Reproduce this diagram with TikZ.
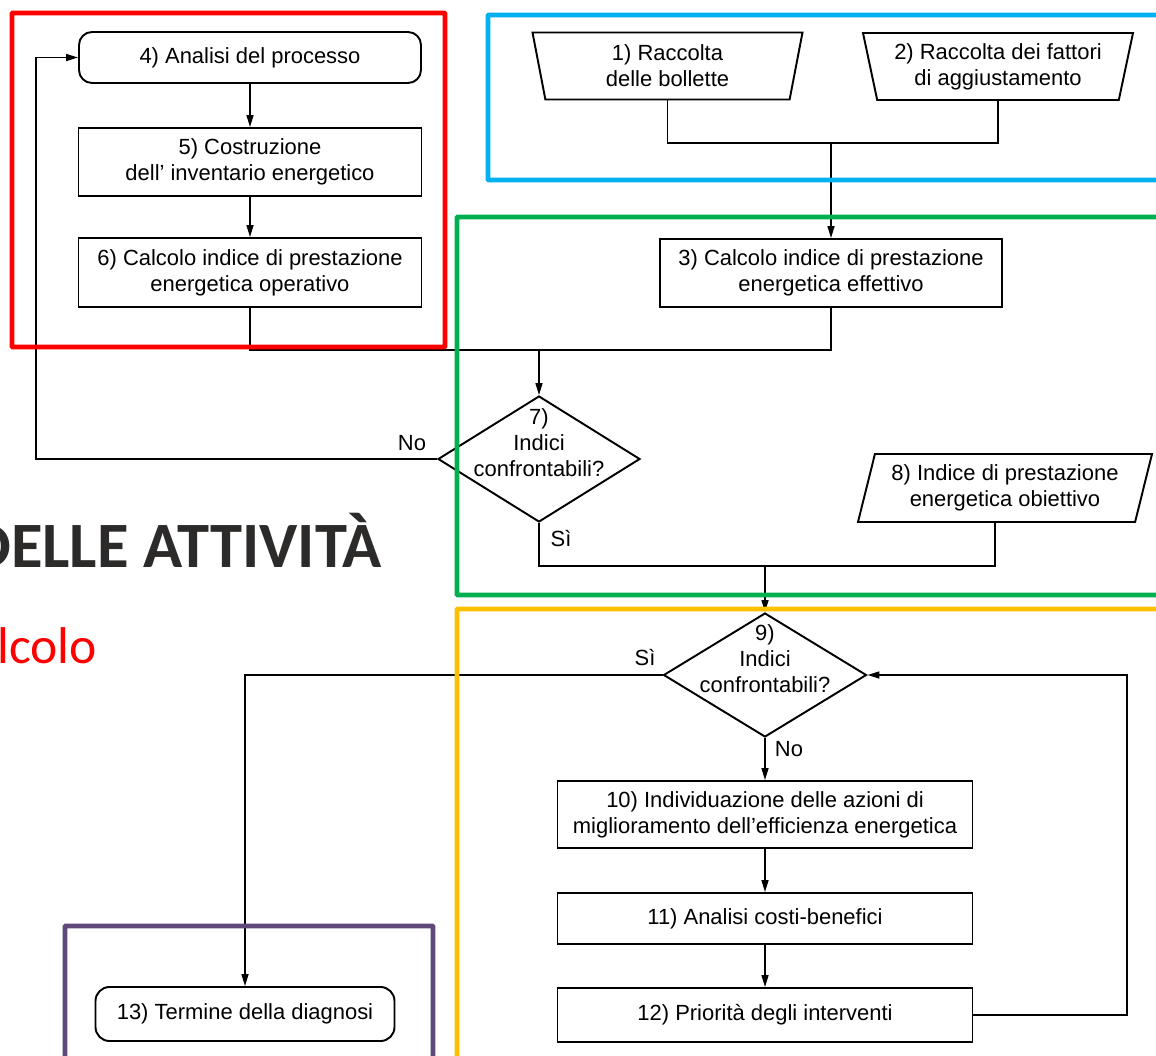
\documentclass[tikz,border=0pt]{standalone}
\usepackage{fontspec}
\setmainfont{Liberation Sans}
\newfontfamily\slidefont{Carlito}
\usetikzlibrary{shapes.geometric,arrows.meta}
\newlength\pxu
\setlength\pxu{0.02cm}
\newcommand\flowfont{\fontsize{12.5}{14.8}\selectfont}
\definecolor{fred}{RGB}{255,0,0}
\definecolor{fblue}{RGB}{0,176,240}
\definecolor{fgreen}{RGB}{0,176,80}
\definecolor{forange}{RGB}{255,192,0}
\definecolor{fpurple}{RGB}{96,73,122}
\definecolor{titlegray}{RGB}{45,42,42}
\begin{document}
\begin{tikzpicture}[x=0.02cm,y=-0.02cm,
  box/.style={draw, line width=1.1pt, inner sep=0pt, align=center, font=\flowfont},
  rbox/.style={box, rounded corners=0.26cm},
  trap/.style={box, trapezium, trapezium angle=73, shape border rotate=180,
     trapezium stretches body, minimum width=270\pxu, minimum height=67\pxu},
  dia/.style={draw, line width=1.1pt, diamond, inner sep=0pt},
  txt/.style={inner sep=0pt, align=center, font=\flowfont},
  conn/.style={line width=0.85pt},
  arr/.style={conn, -{Triangle[length=0.24cm,width=0.14cm]}},
  frame/.style={line width=2.8pt, rounded corners=0.5pt}]
\useasboundingbox (0,0) rectangle (1156,1055);
\clip (0,0) rectangle (1156,1055);
\fill[white] (0,0) rectangle (1156,1055);

% slide background texts
\node[anchor=base west, inner sep=0pt, text=titlegray,
  font=\slidefont\bfseries\fontsize{36.8}{42}\selectfont] (title) at (-30,567) {DELLE ATTIVITÀ};
\node[anchor=base west, inner sep=0pt, text=fred,
  font=\slidefont\fontsize{29.4}{34}\selectfont] (sub) at (-3,663) {lcolo};

% red group
\node[rbox, minimum width=342\pxu, minimum height=51\pxu] (n4) at (250,57.5) {4) Analisi del processo};
\node[box, minimum width=343\pxu, minimum height=68\pxu] (n5) at (250,162) {5) Costruzione\\dell' inventario energetico};
\node[box, minimum width=343\pxu, minimum height=69\pxu] (n6) at (250,272.5) {6) Calcolo indice di prestazione\\energetica operativo};

% blue group
\node[trap] (n1) at (667.5,66) {1) Raccolta\\delle bollette};
\node[trap] (n2) at (998,66.5) {2) Raccolta dei fattori\\di aggiustamento};

% green group
\node[box, minimum width=342\pxu, minimum height=68\pxu] (n3) at (831,273) {3) Calcolo indice di prestazione\\energetica effettivo};
\node[dia, minimum width=202\pxu, minimum height=126\pxu] (d7) at (539,459) {};
\node[txt] (t7) at (539,443) {7)\\Indici\\confrontabili?};
\node[box, trapezium, trapezium left angle=70, trapezium right angle=110,
  trapezium stretches body, minimum width=294\pxu, minimum height=68\pxu] (n8) at (1005,488)
  {8) Indice di prestazione\\energetica obiettivo};

% orange group
\node[dia, minimum width=203\pxu, minimum height=124\pxu] (d9) at (765,675) {};
\node[txt] (t9) at (765,659) {9)\\Indici\\confrontabili?};
\node[box, minimum width=415\pxu, minimum height=67\pxu] (n10) at (765,814.5) {10) Individuazione delle azioni di\\miglioramento dell'efficienza energetica};
\node[box, minimum width=415\pxu, minimum height=51\pxu] (n11) at (765,918.5) {11) Analisi costi-benefici};
\node[box, minimum width=415\pxu, minimum height=54\pxu] (n12) at (765,1015) {12) Priorità degli interventi};

% purple group
\node[rbox, minimum width=299\pxu, minimum height=54\pxu, rounded corners=0.28cm] (n13) at (245,1014) {13) Termine della diagnosi};

% labels
\node[txt] (l7no) at (412,443) {No};
\node[txt] (l7si) at (561,539) {Sì};
\node[txt] (l9si) at (645,658) {Sì};
\node[txt] (l9no) at (789,749) {No};

% connectors
\coordinate (m12) at (831,143);
\coordinate (m36) at (539,350);
\coordinate (m78) at (765,566);
\coordinate (lx) at (36,0);
\coordinate (rx) at (1127,0);

\draw[arr] (n4.south) -- (n5.north);
\draw[arr] (n5.south) -- (n6.north);
\draw[conn] (n1.south) -- (n1.south |- m12) -- (n2.south |- m12) -- (n2.south);
\draw[arr] (m12) -- (n3.north);
\draw[conn] (n6.south) -- (n6.south |- m36) -- (n3.south |- m36) -- (n3.south);
\draw[arr] (m36) -- (d7.north);
\draw[arr] (d7.west) -- (d7.west -| lx) |- (n4.west);
\draw[conn] (d7.south) -- (d7.south |- m78) -- ([xshift=-0.2cm]n8.south |- m78) -- ([xshift=-0.2cm]n8.south);
\draw[arr] (m78) -- (d9.north);
\draw[arr] (d9.west) -| (n13.north);
\draw[arr] (d9.south) -- (n10.north);
\draw[arr] (n10.south) -- (n11.north);
\draw[arr] (n11.south) -- (n12.north);
\draw[arr] (n12.east) -- (n12.east -| rx) |- (d9.east);

% coloured frames
\draw[frame, fred] (12,13) rectangle (445,347);
\draw[frame, fblue] (488,15) rectangle (1175,180);
\draw[frame, fgreen] (457,217) rectangle (1175,595);
\draw[frame, forange] (457,609) rectangle (1175,1075);
\draw[frame, fpurple] (65,926) rectangle (433,1075);
\end{tikzpicture}
\end{document}
